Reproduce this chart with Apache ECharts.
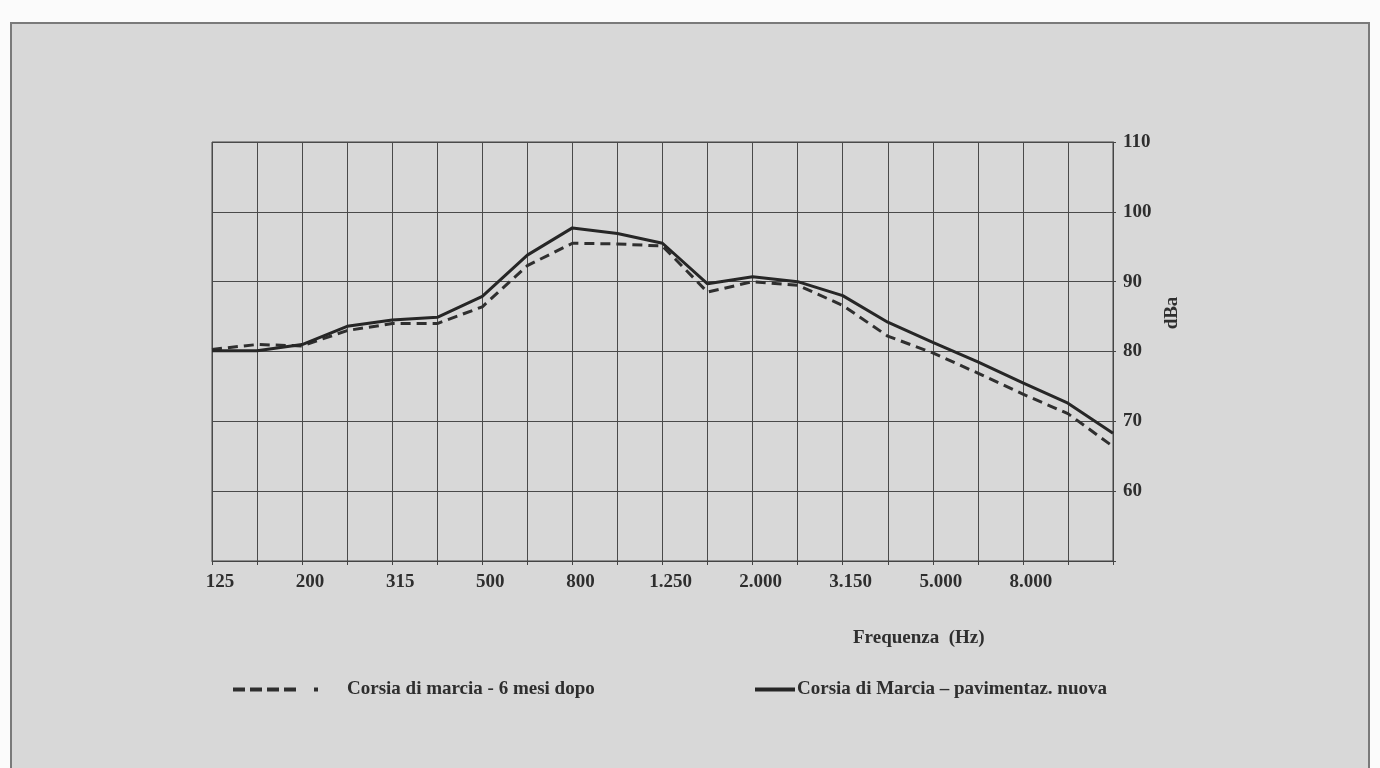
<!DOCTYPE html>
<html>
<head>
<meta charset="utf-8">
<script src="https://cdn.jsdelivr.net/npm/echarts@6/dist/echarts.min.js"></script>
<style>
html,body{margin:0;padding:0;background:#fbfbfb;}
#panel{position:absolute;left:10px;top:22px;width:1360px;height:760px;background:#d8d8d8;border:2px solid #7a7a7a;box-sizing:border-box;}
#chart{position:absolute;left:0;top:0;width:1380px;height:768px;}
</style>
</head>
<body>
<div id="panel"></div>
<div id="chart"></div>
<script>
// Frequency categories (Hz), third-octave bands
const categories = ['125','160','200','250','315','400','500','630','800','1.000','1.250','1.600','2.000','2.500','3.150','4.000','5.000','6.300','8.000','10.000','12.500'];
// Corsia di marcia - 6 mesi dopo (dashed)
const dopo6Mesi = [80.3,81.0,80.8,83.0,84.0,84.0,86.4,92.3,95.5,95.4,95.1,88.5,90.0,89.5,86.6,82.2,79.8,76.9,73.9,71.1,66.4];
// Corsia di Marcia - pavimentaz. nuova (solid)
const pavNuova = [80.1,80.1,81.0,83.6,84.5,84.9,87.9,93.8,97.7,96.9,95.5,89.7,90.7,90.0,88.0,84.2,81.3,78.5,75.5,72.6,68.3];
const yTicks = [60,70,80,90,100,110];
const nameDashed = 'Corsia di marcia - 6 mesi dopo';
const nameSolid = 'Corsia di Marcia \u2013 pavimentaz. nuova';

const chart = echarts.init(document.getElementById('chart'));
const font = 'Liberation Serif';
const txt = '#2e2e2e';
const fs = 19;
const dashIcon = 'path://M0,0h12v4h-12z M17,0h12v4h-12z M34,0h12v4h-12z M51,0h12v4h-12z M81,0h4v4h-4z';
const solidIcon = 'path://M0,0h40v4h-40z';
chart.setOption({
  backgroundColor: 'transparent',
  animation: false,
  textStyle: {fontFamily: font},
  grid: {left: 212, right: 267, top: 142, bottom: 207, show: true, borderColor: '#444', borderWidth: 1, backgroundColor: 'transparent'},
  title: {text: 'Frequenza  (Hz)', left: 853, top: 629, padding: 0,
    textStyle: {fontFamily: font, fontSize: fs, fontWeight: 'bold', color: txt}},
  graphic: [{
    type: 'text', x: 1172, y: 313, rotation: Math.PI / 2,
    style: {text: 'dBa', fill: txt, font: 'bold ' + fs + 'px "Liberation Serif"', align: 'center', verticalAlign: 'middle'}
  }],
  legend: [
    {data: [{name: nameDashed, icon: dashIcon}], left: 233, top: 680, padding: 0, itemWidth: 85, itemHeight: 4, itemGap: 0,
     itemStyle: {color: '#2f2f2f'},
     textStyle: {fontFamily: font, fontSize: fs, fontWeight: 'bold', color: txt, padding: [0,0,0,24]}},
    {data: [{name: nameSolid, icon: solidIcon}], left: 755, top: 680, padding: 0, itemWidth: 40, itemHeight: 4, itemGap: 0,
     itemStyle: {color: '#262626'},
     textStyle: {fontFamily: font, fontSize: fs, fontWeight: 'bold', color: txt, padding: [0,0,0,-3]}}
  ],
  xAxis: {
    type: 'category', data: categories, boundaryGap: false,
    axisLine: {show: true, lineStyle: {color: '#444', width: 1}},
    axisTick: {show: true, interval: 0, length: 4, lineStyle: {color: '#444'}},
    splitLine: {show: true, interval: 0, lineStyle: {color: '#4a4a4a', width: 1}},
    axisLabel: {
      interval: function (i) { return i % 2 === 0 && i < categories.length - 1; },
      margin: 12, fontFamily: font, fontSize: fs, fontWeight: 'bold', color: txt, padding: [0,0,0,16]
    }
  },
  yAxis: {
    type: 'value', position: 'right', min: 50, max: 110, interval: 10,
    axisLine: {show: true, lineStyle: {color: '#444', width: 1}},
    axisTick: {show: true, length: 3, lineStyle: {color: '#444'}},
    splitLine: {show: true, lineStyle: {color: '#4a4a4a', width: 1}},
    axisLabel: {
      margin: 10, fontFamily: font, fontSize: fs, fontWeight: 'bold', color: txt,
      formatter: function (v) { return yTicks.indexOf(v) >= 0 ? String(v) : ''; }
    }
  },
  series: [
    {name: nameDashed, type: 'line', data: dopo6Mesi, symbol: 'none',
     lineStyle: {color: '#2f2f2f', width: 3, type: [10, 6]}, itemStyle: {color: '#2f2f2f'}, z: 3},
    {name: nameSolid, type: 'line', data: pavNuova, symbol: 'none',
     lineStyle: {color: '#262626', width: 3, type: 'solid'}, itemStyle: {color: '#262626'}, z: 4}
  ]
});
</script>
</body>
</html>
